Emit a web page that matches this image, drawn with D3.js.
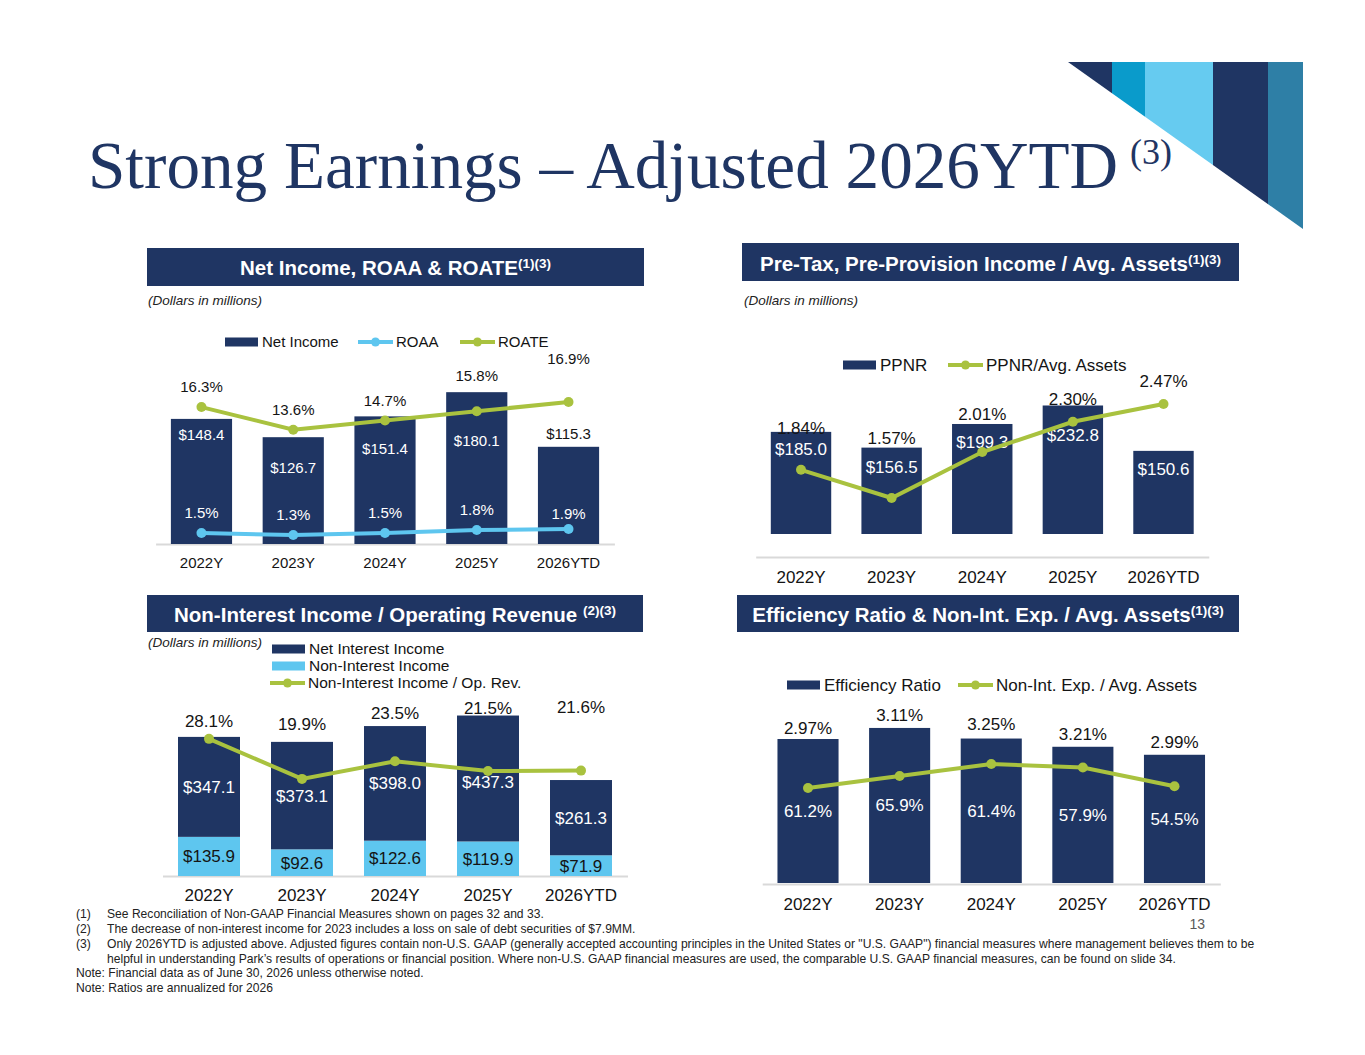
<!DOCTYPE html>
<html>
<head>
<meta charset="utf-8">
<script src="https://cdn.jsdelivr.net/npm/d3@7"></script>
<style>
  body { margin: 0; background: #fff; }
  svg text { font-family: "Liberation Sans", Arial, sans-serif; }
</style>
</head>
<body>
<div id="slide"></div>
<script>
// ---- data ----
const years = ['2022Y', '2023Y', '2024Y', '2025Y', '2026YTD'];

const netIncome = [148.4, 126.7, 151.4, 180.1, 115.3];
const roaa = [1.5, 1.3, 1.5, 1.8, 1.9];
const roate = [16.3, 13.6, 14.7, 15.8, 16.9];

const ppnr = [185.0, 156.5, 199.3, 232.8, 150.6];
const ppnrAssets = [1.84, 1.57, 2.01, 2.30, 2.47];

const netInterestIncome = [347.1, 373.1, 398.0, 437.3, 261.3];
const nonInterestIncome = [135.9, 92.6, 122.6, 119.9, 71.9];
const nonIntShare = [28.1, 19.9, 23.5, 21.5, 21.6];

const efficiency = [61.2, 65.9, 61.4, 57.9, 54.5];
const nonIntExpAssets = [2.97, 3.11, 3.25, 3.21, 2.99];

const footnoteMarks = ['(1)', '(2)', '(3)', '', 'Note:', 'Note:'];
const footnoteTexts = [
  'See Reconciliation of Non-GAAP Financial Measures shown on pages 32 and 33.',
  'The decrease of non-interest income for 2023 includes a loss on sale of debt securities of $7.9MM.',
  'Only 2026YTD is adjusted above. Adjusted figures contain non-U.S. GAAP (generally accepted accounting principles in the United States or "U.S. GAAP") financial measures where management believes them to be',
  'helpful in understanding Park\u2019s results of operations or financial position. Where non-U.S. GAAP financial measures are used, the comparable U.S. GAAP financial measures, can be found on slide 34.',
  'Financial data as of June 30, 2026 unless otherwise noted.',
  'Ratios are annualized for 2026'
];

// ---- colours ----
const NAVY = '#1f3563';
const LIGHT = '#5ec6ef';
const GREEN = '#a9c23f';
const INK = '#141414';

const fmtMoney = d => '$' + d3.format('.1f')(d);
const fmtPct1 = d => d3.format('.1f')(d) + '%';
const fmtPct2 = d => d3.format('.2f')(d) + '%';

const svg = d3.select('#slide').append('svg')
  .attr('width', 1365).attr('height', 1055);

// ---- corner decoration ----
const stripeEdges = [1068, 1112, 1145, 1213, 1268, 1303];
const stripeColors = ['#1f3563', '#0a9bcb', '#66cbf0', '#1f3563', '#2e7fa6'];
svg.append('clipPath').attr('id', 'tri')
  .append('polygon').attr('points', '1068,62 1303,62 1303,229');
svg.append('g').attr('clip-path', 'url(#tri)')
  .selectAll('rect').data(stripeColors).join('rect')
    .attr('x', (d, i) => stripeEdges[i])
    .attr('width', (d, i) => stripeEdges[i + 1] - stripeEdges[i])
    .attr('y', 62).attr('height', 170)
    .attr('fill', d => d);

// ---- title ----
svg.append('text')
  .attr('x', 88).attr('y', 188)
  .attr('fill', '#1f3563')
  .attr('textLength', 1030).attr('lengthAdjust', 'spacingAndGlyphs')
  .style('font-family', '"Liberation Serif", "DejaVu Serif", serif')
  .style('font-size', '68px')
  .text('Strong Earnings \u2013 Adjusted 2026YTD');
svg.append('text')
  .attr('x', 1130).attr('y', 164)
  .attr('fill', '#1f3563')
  .style('font-family', '"Liberation Serif", "DejaVu Serif", serif')
  .style('font-size', '36px')
  .text('(3)');

// ---- helpers ----
function drawHeader(x0, x1, y0, y1, label, sup, baseline) {
  svg.append('rect').attr('x', x0).attr('y', y0)
    .attr('width', x1 - x0).attr('height', y1 - y0).attr('fill', NAVY);
  const t = svg.append('text').attr('x', (x0 + x1) / 2).attr('y', baseline)
    .attr('text-anchor', 'middle').attr('fill', '#fff')
    .style('font-weight', 'bold').style('font-size', '20.5px');
  t.append('tspan').text(label);
  t.append('tspan').text(sup).attr('dy', -7).style('font-size', '13.5px');
}

function drawNote(x, y) {
  svg.append('text').attr('x', x).attr('y', y).attr('dy', '0.35em')
    .attr('fill', '#222').style('font-style', 'italic').style('font-size', '13.5px')
    .text('(Dollars in millions)');
}

function drawAxis(x, yLine, labelOff, size) {
  const g = svg.append('g').attr('transform', `translate(0,${yLine})`)
    .call(d3.axisBottom(x).tickSize(0).tickSizeOuter(0))
    .attr('font-family', null).attr('font-size', null);
  g.select('.domain').attr('stroke', '#d9d9d9').attr('stroke-width', 2);
  g.selectAll('.tick text')
    .attr('y', labelOff).attr('dy', '0.35em')
    .attr('fill', INK).style('font-size', size + 'px');
}

function drawBars(x, y, values, fill) {
  svg.append('g').selectAll('rect').data(values).join('rect')
    .attr('x', (d, i) => x(years[i]))
    .attr('width', x.bandwidth())
    .attr('y', d => y(d))
    .attr('height', d => y(0) - y(d))
    .attr('fill', fill);
}

function drawLine(x, y, values, color) {
  const cx = i => x(years[i]) + x.bandwidth() / 2;
  const line = d3.line().x((d, i) => cx(i)).y(d => y(d));
  svg.append('path').datum(values).attr('d', line)
    .attr('fill', 'none').attr('stroke', color).attr('stroke-width', 4);
  svg.append('g').selectAll('circle').data(values).join('circle')
    .attr('cx', (d, i) => cx(i)).attr('cy', d => y(d)).attr('r', 5)
    .attr('fill', color);
}

// labels: anchor(d,i) gives a y from the scales, dys nudges like the slide does
function drawLabels(x, values, anchor, dys, fmt, size, fill) {
  svg.append('g').selectAll('text').data(values).join('text')
    .attr('x', (d, i) => x(years[i]) + x.bandwidth() / 2)
    .attr('y', (d, i) => anchor(d, i) + dys[i])
    .attr('dy', '0.35em').attr('text-anchor', 'middle')
    .attr('fill', (d, i) => typeof fill === 'function' ? fill(i) : fill)
    .style('font-size', size + 'px')
    .text(fmt);
}

function legendSwatch(x, y, color, label, size) {
  svg.append('rect').attr('x', x).attr('y', y - 4.5)
    .attr('width', 33).attr('height', 9).attr('fill', color);
  svg.append('text').attr('x', x + 37).attr('y', y).attr('dy', '0.35em')
    .attr('fill', INK).style('font-size', size + 'px').text(label);
}

function legendLine(x, y, color, label, size) {
  svg.append('line').attr('x1', x).attr('x2', x + 35).attr('y1', y).attr('y2', y)
    .attr('stroke', color).attr('stroke-width', 4);
  svg.append('circle').attr('cx', x + 17.5).attr('cy', y).attr('r', 4.5).attr('fill', color);
  svg.append('text').attr('x', x + 38).attr('y', y).attr('dy', '0.35em')
    .attr('fill', INK).style('font-size', size + 'px').text(label);
}

function band(x0, x1) {
  return d3.scaleBand().domain(years).range([x0, x1])
    .paddingInner(1 / 3).paddingOuter(1 / 6);
}

// ---- panel 1: Net Income, ROAA & ROATE ----
{
  drawHeader(147, 644, 248, 286, 'Net Income, ROAA & ROATE', '(1)(3)', 275);
  drawNote(148, 300);
  const x = band(155.6, 614.4);
  const yBar = d3.scaleLinear().domain([0, 200]).range([544, 375.4]);
  const yRoate = d3.scaleLinear().domain([0, 20]).range([544, 376]);
  const yRoaa = d3.scaleLinear().domain([1, 6]).range([538, 488]);

  drawAxis(x, 544, 19, 15);
  drawBars(x, yBar, netIncome, NAVY);
  drawLine(x, yRoaa, roaa, LIGHT);
  drawLine(x, yRoate, roate, GREEN);

  drawLabels(x, netIncome, d => yBar(d), [16, 31, 32, 49, -13], fmtMoney, 15,
    i => i === 4 ? INK : '#fff');
  drawLabels(x, roate, d => yRoate(d), [-20, -20, -20, -36, -43], fmtPct1, 15, INK);
  drawLabels(x, roaa, d => yRoaa(d), [-20, -20, -20, -20, -15], fmtPct1, 15, '#fff');

  legendSwatch(225, 342, NAVY, 'Net Income', 15);
  legendLine(358, 342, LIGHT, 'ROAA', 15);
  legendLine(460, 342, GREEN, 'ROATE', 15);
}

// ---- panel 2: PPNR / Avg. Assets ----
{
  drawHeader(742, 1239, 243, 281, 'Pre-Tax, Pre-Provision Income / Avg. Assets', '(1)(3)', 271);
  drawNote(744, 300);
  const x = band(755.7, 1208.8);
  const yBar = d3.scaleLinear().domain([0, 300]).range([534, 368.4]);
  const yRatio = d3.scaleLinear().domain([1.0, 2.5]).range([557.5, 400.9]);

  drawAxis(x, 557, 20, 17);
  drawBars(x, yBar, ppnr, NAVY);
  drawLabels(x, ppnrAssets, d => yRatio(d), [-42, -60, -38, -23, -23], fmtPct2, 17, INK);
  drawLabels(x, ppnr, d => yBar(d), [17, 19, 18, 30, 18], fmtMoney, 17, '#fff');
  drawLine(x, yRatio, ppnrAssets, GREEN);

  legendSwatch(843, 365, NAVY, 'PPNR', 17);
  legendLine(948, 365, GREEN, 'PPNR/Avg. Assets', 17);
}

// ---- panel 3: Non-Interest Income / Operating Revenue ----
{
  drawHeader(147, 643, 595, 632, 'Non-Interest Income / Operating Revenue ', '(2)(3)', 622);
  drawNote(148, 642);
  const x = band(162.5, 627.5);
  const yBar = d3.scaleLinear().domain([0, 600]).range([876, 703.2]);
  const yShare = d3.scaleLinear().domain([0, 30]).range([876, 729.6]);

  const table = years.map((yr, i) => ({ year: yr, nonii: nonInterestIncome[i], nii: netInterestIncome[i] }));
  const stacked = d3.stack().keys(['nonii', 'nii'])(table);
  const stackColors = { nonii: LIGHT, nii: NAVY };

  drawAxis(x, 876, 19, 17);
  svg.append('g').selectAll('g').data(stacked).join('g')
    .attr('fill', s => stackColors[s.key])
    .selectAll('rect').data(s => s).join('rect')
      .attr('x', d => x(d.data.year))
      .attr('width', x.bandwidth())
      .attr('y', d => yBar(d[1]))
      .attr('height', d => yBar(d[0]) - yBar(d[1]));

  drawLabels(x, netInterestIncome, (d, i) => yBar(nonInterestIncome[i] + d / 2),
    [0, 0, 0, 4, 0], fmtMoney, 17, '#fff');
  drawLabels(x, nonInterestIncome, d => yBar(d / 2), [0, 0, 0, 0, 0], fmtMoney, 17, INK);
  drawLine(x, yShare, nonIntShare, GREEN);
  drawLabels(x, nonIntShare, d => yShare(d), [-18, -55, -48, -63, -64], fmtPct1, 17, INK);

  legendSwatch(272, 649, NAVY, 'Net Interest Income', 15.5);
  legendSwatch(272, 666, LIGHT, 'Non-Interest Income', 15.5);
  legendLine(270, 683, GREEN, 'Non-Interest Income / Op. Rev.', 15.5);
}

// ---- panel 4: Efficiency Ratio & Non-Int. Exp. / Avg. Assets ----
{
  drawHeader(737, 1239, 595, 632, 'Efficiency Ratio & Non-Int. Exp. / Avg. Assets', '(1)(3)', 622);
  const x = band(762.2, 1220.3);
  const yBar = d3.scaleLinear().domain([0, 70]).range([883, 718.3]);
  const yRatio = d3.scaleLinear().domain([2.0, 3.5]).range([871.1, 742.6]);

  drawAxis(x, 884, 20, 17);
  drawBars(x, yBar, efficiency, NAVY);
  drawLabels(x, efficiency, d => (yBar(d) + yBar(0)) / 2, [0, 0, 0, 0, 0], fmtPct1, 17, '#fff');
  drawLabels(x, nonIntExpAssets, (d, i) => yBar(efficiency[i]), [-11, -13, -14, -13, -13], fmtPct2, 17, INK);
  drawLine(x, yRatio, nonIntExpAssets, GREEN);

  legendSwatch(787, 685, NAVY, 'Efficiency Ratio', 17);
  legendLine(958, 685, GREEN, 'Non-Int. Exp. / Avg. Assets', 17);
}

// ---- page number & footnotes ----
svg.append('text').attr('x', 1205).attr('y', 929).attr('text-anchor', 'end')
  .attr('fill', '#595959').style('font-size', '14px').text('13');

const notes = svg.append('g').attr('fill', '#222').style('font-size', '12.1px');
const noteBase = [918, 933, 948, 963, 977, 992];
footnoteTexts.forEach((t, i) => {
  const mark = footnoteMarks[i];
  if (mark.startsWith('Note')) {
    notes.append('text').attr('x', 76).attr('y', noteBase[i]).text(mark + ' ' + t);
  } else {
    if (mark) notes.append('text').attr('x', 76).attr('y', noteBase[i]).text(mark);
    notes.append('text').attr('x', 107).attr('y', noteBase[i]).text(t);
  }
});
</script>
</body>
</html>
